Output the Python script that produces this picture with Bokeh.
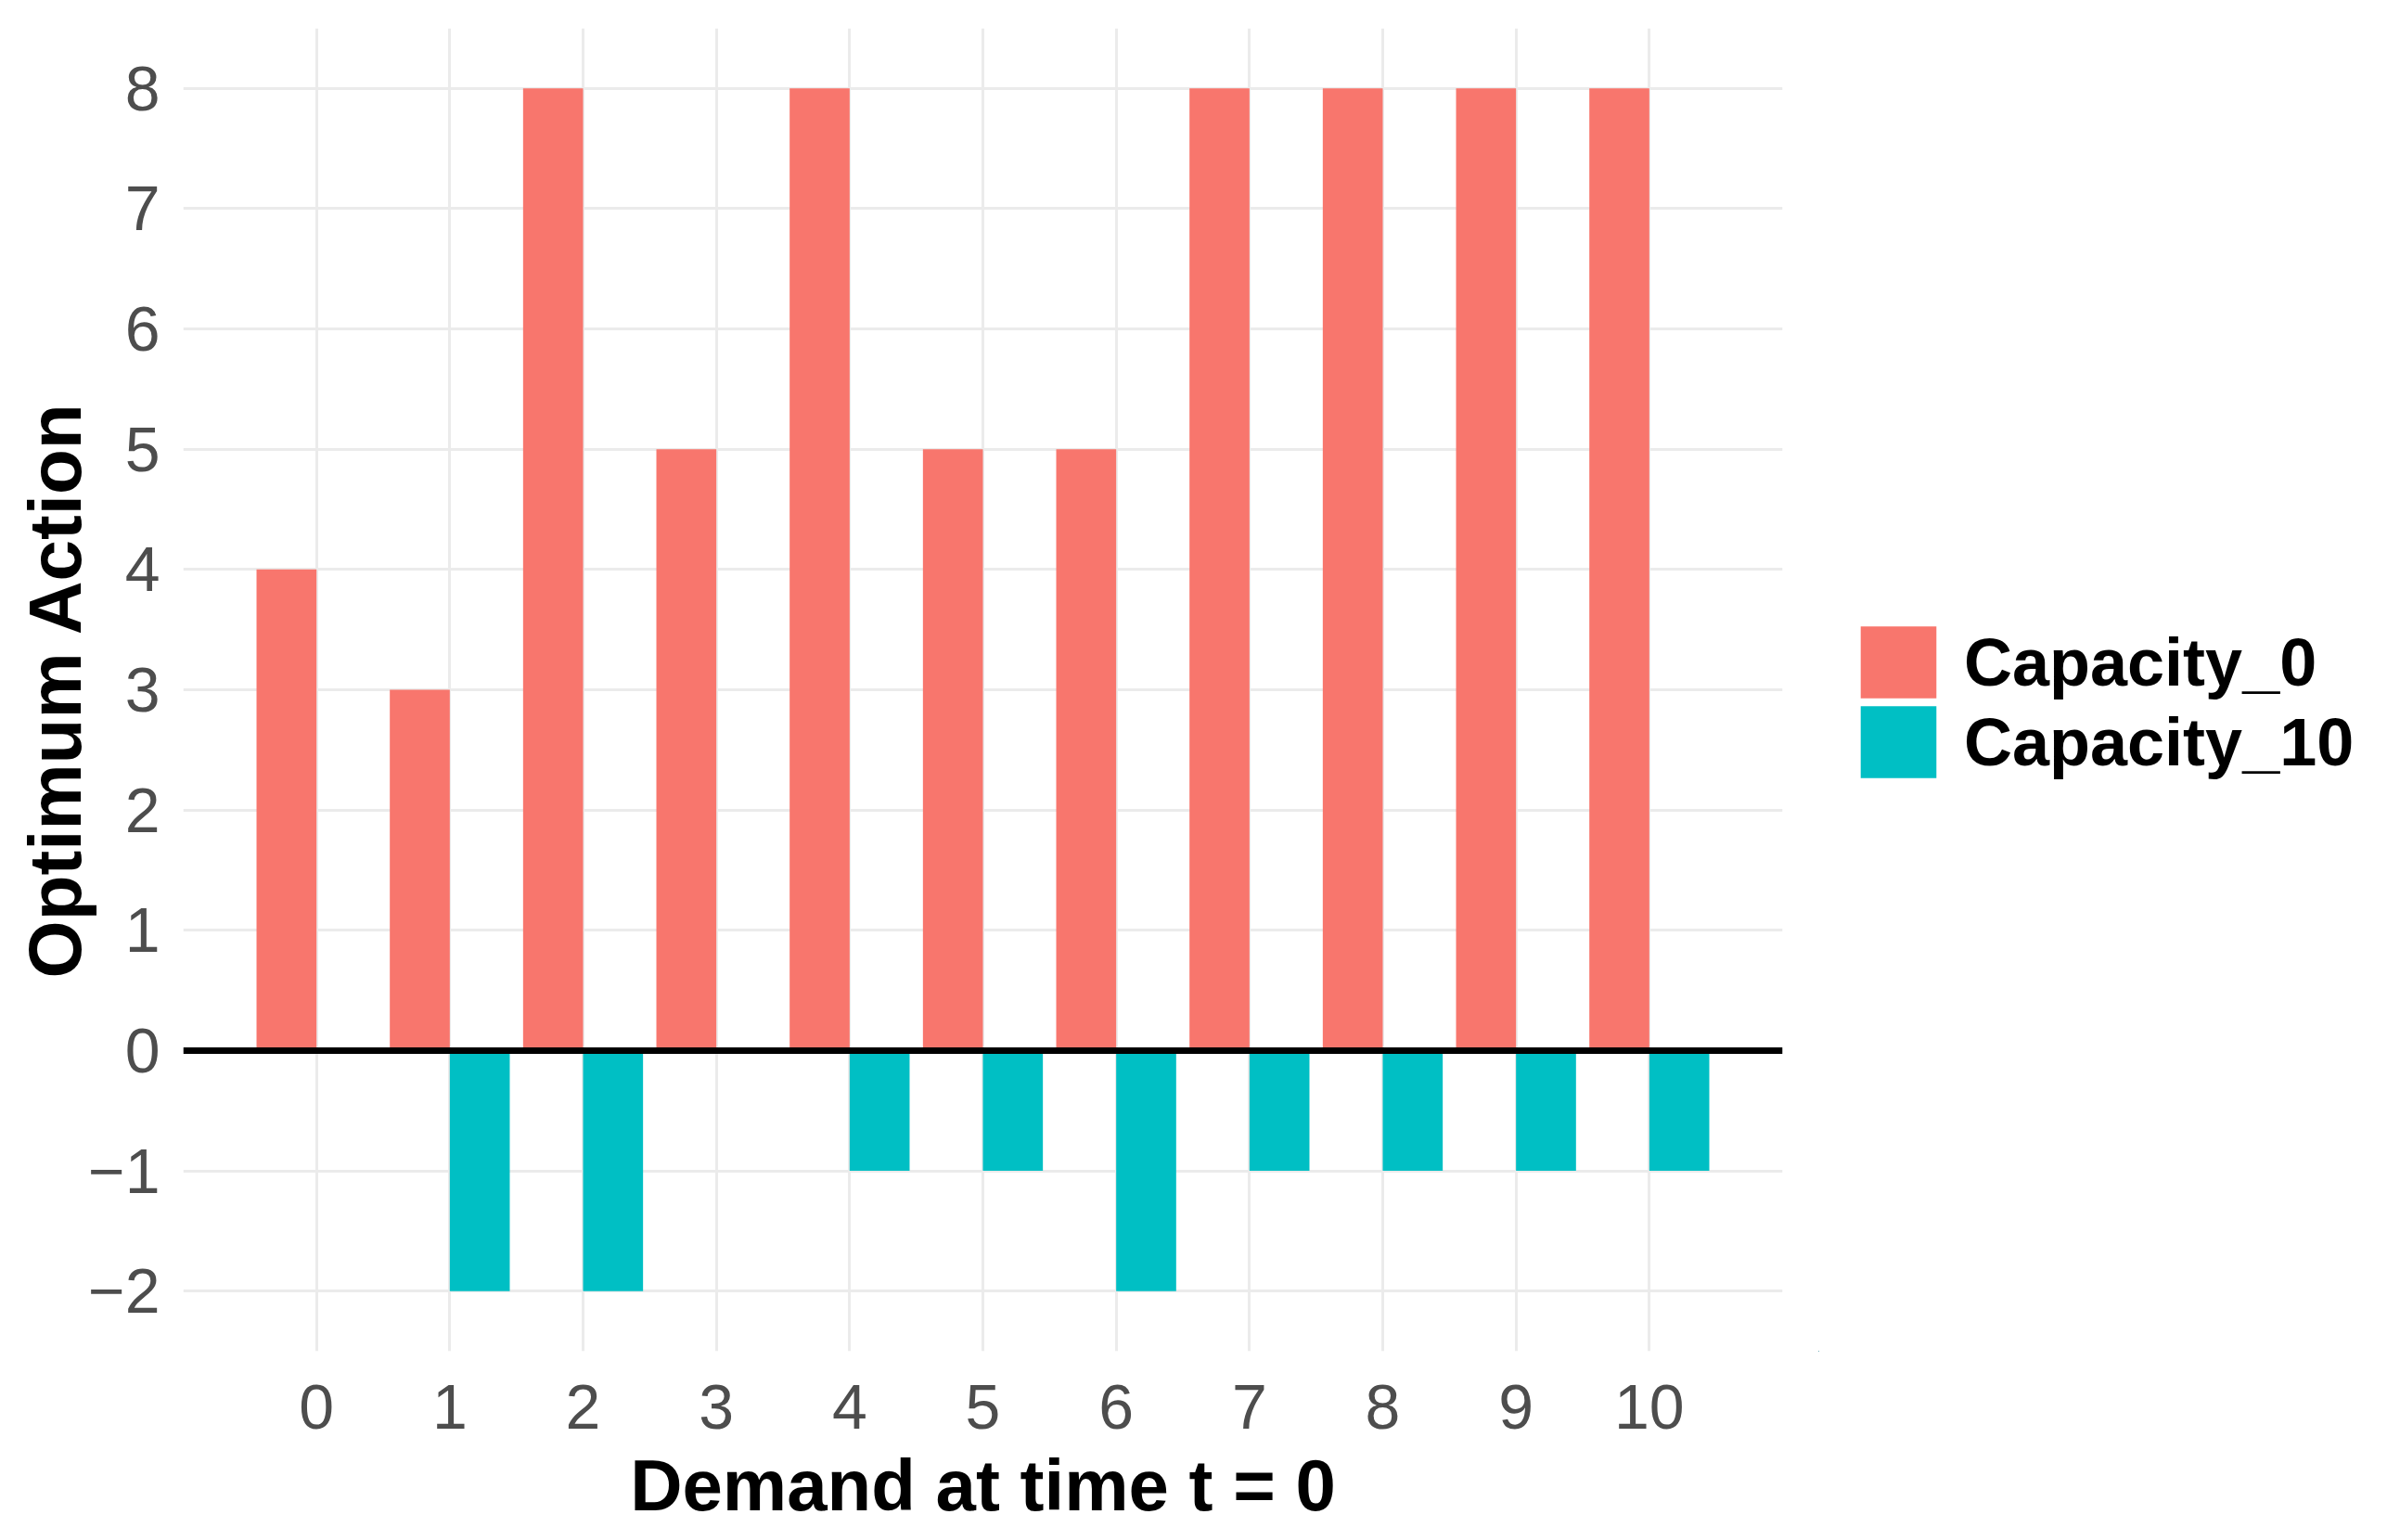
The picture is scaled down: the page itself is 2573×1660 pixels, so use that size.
from bokeh.plotting import figure
from bokeh.models import ColumnDataSource, FixedTicker, Span, Legend, LegendItem, Range1d
from bokeh.layouts import row
from bokeh.transform import dodge
from bokeh.embed import file_html
from bokeh.resources import INLINE

demand = [0, 1, 2, 3, 4, 5, 6, 7, 8, 9, 10]
capacity_0 = [4, 3, 8, 5, 8, 5, 5, 8, 8, 8, 8]
capacity_10 = [0, -2, -2, 0, -1, -1, -2, -1, -1, -1, -1]
series_names = ["Capacity_0", "Capacity_10"]
series_colors = ["#F8766D", "#00BFC4"]
y_ticks = [-2, -1, 0, 1, 2, 3, 4, 5, 6, 7, 8]

src = ColumnDataSource(dict(x=demand, c0=capacity_0, c10=capacity_10))

FONT = "Liberation Sans"
MAIN_W = 1960
TOTAL_W = 2573
H = 1660

p = figure(width=MAIN_W, height=H, output_backend="svg", toolbar_location=None,
           x_range=Range1d(-1.0, 11.0), y_range=Range1d(-2.5, 8.5),
           min_border_left=197, min_border_right=MAIN_W - 1921, min_border_top=30, min_border_bottom=204)
p.outline_line_color = None
p.background_fill_color = "white"
p.border_fill_color = "white"

r0 = p.vbar(x=dodge("x", -0.225), top="c0", bottom=0, width=0.45, source=src,
            fill_color=series_colors[0], line_color=None)
r1 = p.vbar(x=dodge("x", 0.225), top="c10", bottom=0, width=0.45, source=src,
            fill_color=series_colors[1], line_color=None)

p.add_layout(Span(location=0, dimension="width", line_color="black", line_width=7))

p.xaxis.ticker = FixedTicker(ticks=demand)
p.yaxis.ticker = FixedTicker(ticks=y_ticks)
p.yaxis.major_label_overrides = {t: (str(t).replace("-", "\u2212")) for t in y_ticks}

for ax in (p.xaxis[0], p.yaxis[0]):
    ax.axis_line_color = None
    ax.major_tick_line_color = None
    ax.minor_tick_line_color = None
    ax.major_tick_out = 0
    ax.major_tick_in = 0
    ax.major_label_text_font = FONT
    ax.major_label_text_font_size = "68px"
    ax.major_label_text_color = "#4D4D4D"
    ax.axis_label_text_font = FONT
    ax.axis_label_text_font_style = "bold"
    ax.axis_label_text_color = "black"

p.xaxis.axis_label = "Demand at time t = 0"
p.xaxis.axis_label_text_font_size = "78px"
p.xaxis.major_label_standoff = 36
p.xaxis.axis_label_standoff = 14

p.yaxis.axis_label = "Optimum Action"
p.yaxis.axis_label_text_font_size = "80px"
p.yaxis.major_label_standoff = 25
p.yaxis.axis_label_standoff = -12

p.xgrid.grid_line_color = "#EBEBEB"
p.ygrid.grid_line_color = "#EBEBEB"
p.xgrid.grid_line_width = 3
p.ygrid.grid_line_width = 3

# legend panel (separate figure so the legend is not clipped by the plot frame)
q = figure(width=TOTAL_W - MAIN_W, height=H, output_backend="svg", toolbar_location=None,
           x_range=Range1d(100, 101), y_range=Range1d(100, 101),
           x_axis_location=None, y_axis_location=None,
           min_border_left=0, min_border_right=0, min_border_top=0, min_border_bottom=0)
q.outline_line_color = None
q.grid.visible = False
q.background_fill_color = "white"
q.border_fill_color = "white"

# legend proxies: zero-area bars outside the visible range of the legend panel
k0 = q.vbar(x="x", top=0, bottom=0, width=0, source=src, fill_color=series_colors[0], line_color=None)
k1 = q.vbar(x="x", top=0, bottom=0, width=0, source=src, fill_color=series_colors[1], line_color=None)

def make_legend(label, renderer, y_loc):
    lg = Legend(items=[LegendItem(label=label, renderers=[renderer])],
                location=(1995 - MAIN_W, y_loc))
    lg.background_fill_alpha = 0
    lg.border_line_color = None
    lg.padding = 0
    lg.margin = 0
    lg.spacing = 0
    lg.glyph_width = 102
    lg.glyph_height = 97
    lg.label_standoff = 20
    lg.label_text_font = FONT
    lg.label_text_font_style = "bold"
    lg.label_text_font_size = "72px"
    lg.label_text_color = "black"
    lg.label_height = 97
    return lg

q.add_layout(make_legend(series_names[0], k0, 694), "center")
q.add_layout(make_legend(series_names[1], k1, 608), "center")

layout = row(p, q)
open("out.html", "w").write(file_html(layout, INLINE))
